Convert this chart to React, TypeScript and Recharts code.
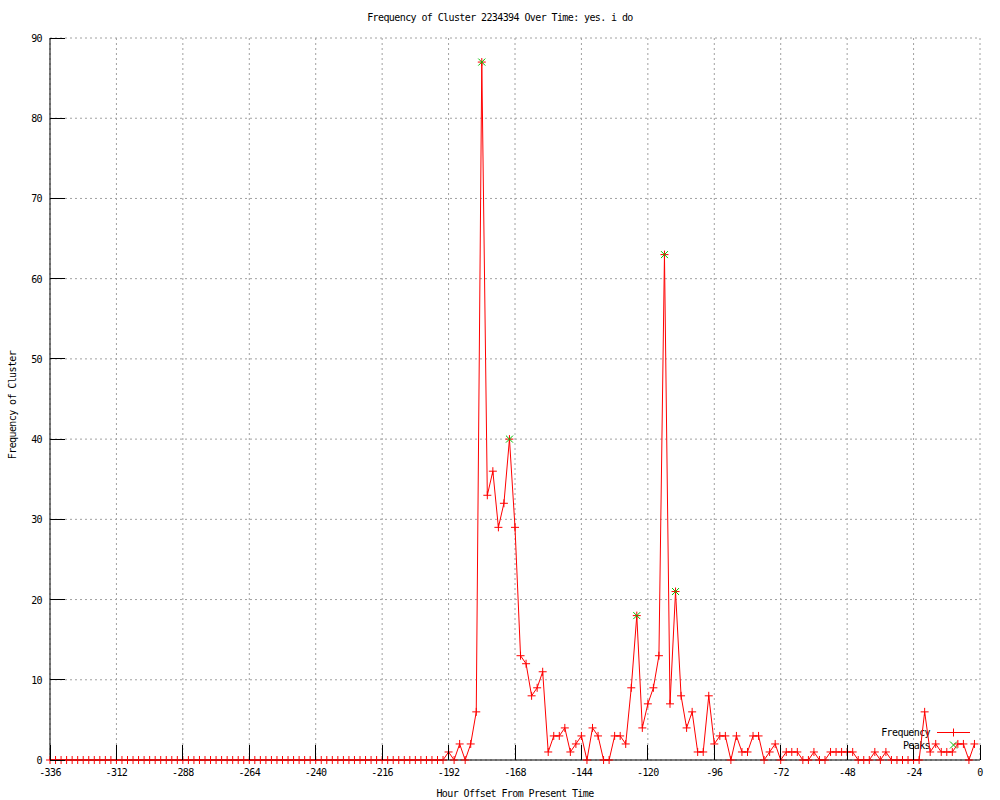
import React from 'react';
import { LineChart, Line, XAxis, YAxis, CartesianGrid } from 'recharts';

const TITLE = 'Frequency of Cluster 2234394 Over Time: yes. i do';
const X_LABEL = 'Hour Offset From Present Time';
const Y_LABEL = 'Frequency of Cluster';

const hours = [
  -336, -334, -332, -330, -328, -326, -324, -322, -320, -318,
  -316, -314, -312, -310, -308, -306, -304, -302, -300, -298,
  -296, -294, -292, -290, -288, -286, -284, -282, -280, -278,
  -276, -274, -272, -270, -268, -266, -264, -262, -260, -258,
  -256, -254, -252, -250, -248, -246, -244, -242, -240, -238,
  -236, -234, -232, -230, -228, -226, -224, -222, -220, -218,
  -216, -214, -212, -210, -208, -206, -204, -202, -200, -198,
  -196, -194,
  -192, -190, -188, -186, -184, -182, -180, -178, -176, -174,
  -172, -170, -168, -166, -164, -162, -160, -158, -156, -154,
  -152, -150, -148, -146, -144, -142, -140, -138, -136, -134,
  -132, -130, -128, -126, -124, -122, -120, -118, -116, -114,
  -112, -110, -108, -106, -104, -102, -100, -98, -96, -94,
  -92, -90, -88, -86, -84, -82, -80, -78, -76, -74,
  -72, -70, -68, -66, -64, -62, -60, -58, -56, -54,
  -52, -50, -48, -46, -44, -42, -40, -38, -36, -34,
  -32, -30, -28, -26, -24, -22, -20, -18, -16, -14,
  -12, -10, -8, -6, -4, -2,
];

const frequency = [
  0, 0, 0, 0, 0, 0, 0, 0, 0, 0,
  0, 0, 0, 0, 0, 0, 0, 0, 0, 0,
  0, 0, 0, 0, 0, 0, 0, 0, 0, 0,
  0, 0, 0, 0, 0, 0, 0, 0, 0, 0,
  0, 0, 0, 0, 0, 0, 0, 0, 0, 0,
  0, 0, 0, 0, 0, 0, 0, 0, 0, 0,
  0, 0, 0, 0, 0, 0, 0, 0, 0, 0,
  0, 0,
  1, 0, 2, 0, 2, 6, 87, 33, 36, 29,
  32, 40, 29, 13, 12, 8, 9, 11, 1, 3,
  3, 4, 1, 2, 3, 0, 4, 3, 0, 0,
  3, 3, 2, 9, 18, 4, 7, 9, 13, 63,
  7, 21, 8, 4, 6, 1, 1, 8, 2, 3,
  3, 0, 3, 1, 1, 3, 3, 0, 1, 2,
  0, 1, 1, 1, 0, 0, 1, 0, 0, 1,
  1, 1, 1, 1, 0, 0, 0, 1, 0, 1,
  0, 0, 0, 0, 0, 0, 6, 1, 2, 1,
  1, 1, 2, 2, 0, 2,
];

const peakHours = [-180, -170, -124, -114, -110];
const peakValues = [87, 40, 18, 63, 21];

const xTicks = [-336, -312, -288, -264, -240, -216, -192, -168, -144, -120, -96, -72, -48, -24, 0];
const yTicks = [0, 10, 20, 30, 40, 50, 60, 70, 80, 90];

const data = hours.map((h, i) => {
  const pi = peakHours.indexOf(h);
  return { hour: h, freq: frequency[i], peak: pi >= 0 ? peakValues[pi] : null };
});

const FONT = "'DejaVu Sans Mono', 'Liberation Mono', monospace";
const txt = { fontFamily: FONT, fontSize: 10, letterSpacing: -0.6, fill: '#000' } as const;
const TICK = 15;
const RED = '#ff0000';
const GREEN = '#00c000';

const BottomTick = (p: any) => (
  <g>
    <line x1={p.x} x2={p.x} y1={p.y} y2={p.y - TICK} stroke="#000" shapeRendering="crispEdges" />
    <text x={p.x} y={p.y + 16} textAnchor="middle" style={txt}>{p.payload.value}</text>
  </g>
);
const TopTick = (p: any) => (
  <line x1={p.x} x2={p.x} y1={p.y} y2={p.y + TICK} stroke="#000" shapeRendering="crispEdges" />
);
const LeftTick = (p: any) => (
  <g>
    <line x1={p.x} x2={p.x + TICK} y1={p.y} y2={p.y} stroke="#000" shapeRendering="crispEdges" />
    <text x={p.x - 8} y={p.y + 4} textAnchor="end" style={txt}>{p.payload.value}</text>
  </g>
);
const RightTick = (p: any) => (
  <line x1={p.x} x2={p.x - TICK} y1={p.y} y2={p.y} stroke="#000" shapeRendering="crispEdges" />
);

const PlusDot = (p: any) => {
  const { cx, cy, index } = p;
  if (cx == null || cy == null) return <g key={`f${index}`} />;
  return (
    <path key={`f${index}`} d={`M${cx - 4},${cy}H${cx + 4}M${cx},${cy - 4}V${cy + 4}`} stroke={RED} strokeWidth={1} fill="none" />
  );
};
const CrossDot = (p: any) => {
  const { cx, cy, index, payload } = p;
  if (cx == null || cy == null || payload == null || payload.peak == null) return <g key={`p${index}`} />;
  return (
    <path key={`p${index}`} d={`M${cx - 3.5},${cy - 3.5}L${cx + 3.5},${cy + 3.5}M${cx - 3.5},${cy + 3.5}L${cx + 3.5},${cy - 3.5}`} stroke={GREEN} strokeWidth={1} fill="none" />
  );
};

export default function App() {
  return (
    <div style={{ position: 'absolute', left: 0, top: 0, width: 1000, height: 800, background: '#fff' }}>
      <LineChart width={1000} height={800} data={data} margin={{ top: 38, right: 20, left: 8, bottom: 0 }}>
        <CartesianGrid stroke="#a0a0a0" strokeDasharray="2 3" verticalValues={xTicks} horizontalValues={yTicks} />
        <XAxis
          dataKey="hour"
          type="number"
          domain={[-336, 0]}
          ticks={xTicks}
          interval={0}
          height={40}
          tickSize={0}
          tickMargin={0}
          tickLine={false}
          tick={<BottomTick />}
          axisLine={{ stroke: '#000' }}
        />
        <XAxis
          xAxisId="top"
          orientation="top"
          dataKey="hour"
          type="number"
          domain={[-336, 0]}
          ticks={xTicks}
          interval={0}
          height={0}
          tickSize={0}
          tickMargin={0}
          tickLine={false}
          tick={<TopTick />}
          axisLine={{ stroke: '#000' }}
        />
        <YAxis
          type="number"
          domain={[0, 90]}
          ticks={yTicks}
          interval={0}
          width={42}
          tickSize={0}
          tickMargin={0}
          tickLine={false}
          tick={<LeftTick />}
          axisLine={{ stroke: '#000' }}
        />
        <YAxis
          yAxisId="right"
          orientation="right"
          type="number"
          domain={[0, 90]}
          ticks={yTicks}
          interval={0}
          width={0}
          tickSize={0}
          tickMargin={0}
          tickLine={false}
          tick={<RightTick />}
          axisLine={{ stroke: '#000' }}
        />
        <Line
          dataKey="freq"
          type="linear"
          stroke={RED}
          strokeWidth={1}
          dot={PlusDot}
          activeDot={false}
          isAnimationActive={false}
        />
        <Line
          dataKey="peak"
          type="linear"
          stroke="none"
          dot={CrossDot}
          activeDot={false}
          connectNulls={false}
          isAnimationActive={false}
        />
        <text x={500} y={21} textAnchor="middle" style={txt}>{TITLE}</text>
        <text x={515} y={797} textAnchor="middle" style={txt}>{X_LABEL}</text>
        <text x={16} y={405} textAnchor="middle" transform="rotate(-90 16 405)" style={txt}>{Y_LABEL}</text>
        <g>
          <text x={930} y={736} textAnchor="end" style={txt}>Frequency</text>
          <line x1={937} x2={970} y1={732.5} y2={732.5} stroke={RED} />
          <path d="M953.5,728.5V736.5M949.5,732.5H957.5" stroke={RED} />
          <text x={930} y={749} textAnchor="end" style={txt}>Peaks</text>
          <path d="M950,741.5L957,748.5M950,748.5L957,741.5" stroke={GREEN} />
        </g>
      </LineChart>
    </div>
  );
}
